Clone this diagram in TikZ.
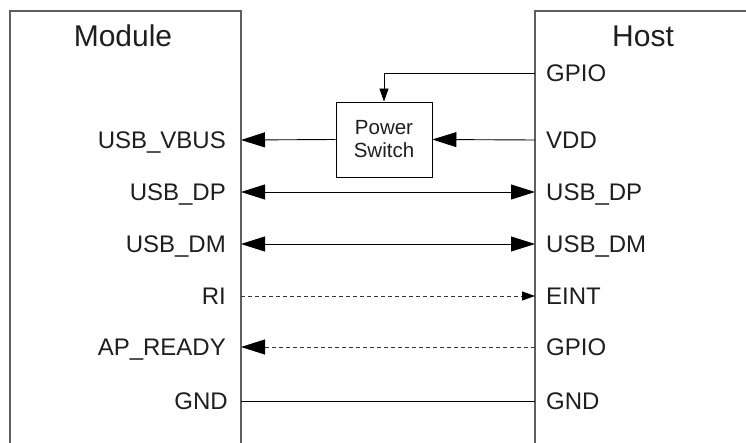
\documentclass[tikz,border=0pt]{standalone}
\usepackage{fontspec}
\setmainfont{Liberation Sans}
\usepackage{tikz}
\usetikzlibrary{arrows.meta, positioning}
\definecolor{framegray}{RGB}{95,95,95}
\definecolor{textblack}{RGB}{30,30,30}

\begin{document}
\begin{tikzpicture}[
    x=1pt, y=-1pt,
    frame/.style={draw=framegray, line width=1.2pt},
    title/.style={font=\fontsize{30}{32}\selectfont, text=textblack,
                text height=21.5pt, text depth=0pt, inner sep=0pt},
    pin/.style={font=\fontsize{24}{26}\selectfont, text=textblack,
                text height=17pt, text depth=0pt, inner sep=0pt},
    switchbox/.style={rectangle, draw=black, line width=0.9pt,
                minimum width=96pt, minimum height=75pt,
                font=\fontsize{20.5}{23}\selectfont, align=center, text=textblack},
    sig/.style={line width=0.9pt, black},
    dsig/.style={line width=0.8pt, black!80, dash pattern=on 4pt off 3pt},
    bigtip/.style={-{Triangle[length=24pt, width=15pt, color=black]}},
    bothtip/.style={{Triangle[length=24pt, width=15pt]}-{Triangle[length=24pt, width=15pt]}},
    smalltip/.style={-{Triangle[length=13pt, width=9pt, color=black]}}
]
    \useasboundingbox (0,0) rectangle (746,443);

    % Boxes
    \draw[frame] (10,443) |- (241,11) -- (241,443);
    \draw[frame] (746,11) -| (535,443);
    \node[title] (module) at (123,36) {Module};
    \node[title] (host) at (643,36) {Host};

    % Pin points
    \coordinate (m-vbus) at (241,140);
    \coordinate (m-dp)   at (241,192);
    \coordinate (m-dm)   at (241,244);
    \coordinate (m-ri)   at (241,296);
    \coordinate (m-rdy)  at (241,347);
    \coordinate (m-gnd)  at (241,401);
    \coordinate (h-gpio) at (535,73);
    \coordinate (h-vdd)  at (535,140);
    \coordinate (h-dp)   at (535,192);
    \coordinate (h-dm)   at (535,244);
    \coordinate (h-eint) at (535,296);
    \coordinate (h-rdy)  at (535,347);
    \coordinate (h-gnd)  at (535,401);

    % Module labels
    \node[pin, left=15pt of m-vbus] (l-vbus) {USB\_VBUS};
    \node[pin, left=15pt of m-dp] (l-mdp) {USB\_DP};
    \node[pin, left=15pt of m-dm] (l-mdm) {USB\_DM};
    \node[pin, left=15pt of m-ri] (l-ri) {RI};
    \node[pin, left=15pt of m-rdy] (l-rdy) {AP\_READY};
    \node[pin, left=13pt of m-gnd] (l-mgnd) {GND};

    % Host labels
    \node[pin, right=11pt of h-gpio] (l-gpio) {GPIO};
    \node[pin, right=11pt of h-vdd] (l-vdd) {VDD};
    \node[pin, right=11pt of h-dp] (l-hdp) {USB\_DP};
    \node[pin, right=11pt of h-dm] (l-hdm) {USB\_DM};
    \node[pin, right=11pt of h-eint] (l-eint) {EINT};
    \node[pin, right=11pt of h-rdy] (l-hgpio) {GPIO};
    \node[pin, right=11pt of h-gnd] (l-hgnd) {GND};

    % Power switch
    \node[switchbox] (psw) at (384,139.5) {Power\\Switch};

    % Connectors
    \draw[sig, smalltip] (h-gpio) -| (psw.north);
    \draw[sig, bigtip] (h-vdd) -- (psw.east);
    \draw[sig, bigtip] (psw.west) -- (m-vbus);
    \draw[sig, bothtip] (m-dp) -- (h-dp);
    \draw[sig, bothtip] (m-dm) -- (h-dm);
    \draw[dsig, smalltip] (m-ri) -- (h-eint);
    \draw[dsig, bigtip] (h-rdy) -- (m-rdy);
    \draw[sig] (m-gnd) -- (h-gnd);
\end{tikzpicture}
\end{document}
